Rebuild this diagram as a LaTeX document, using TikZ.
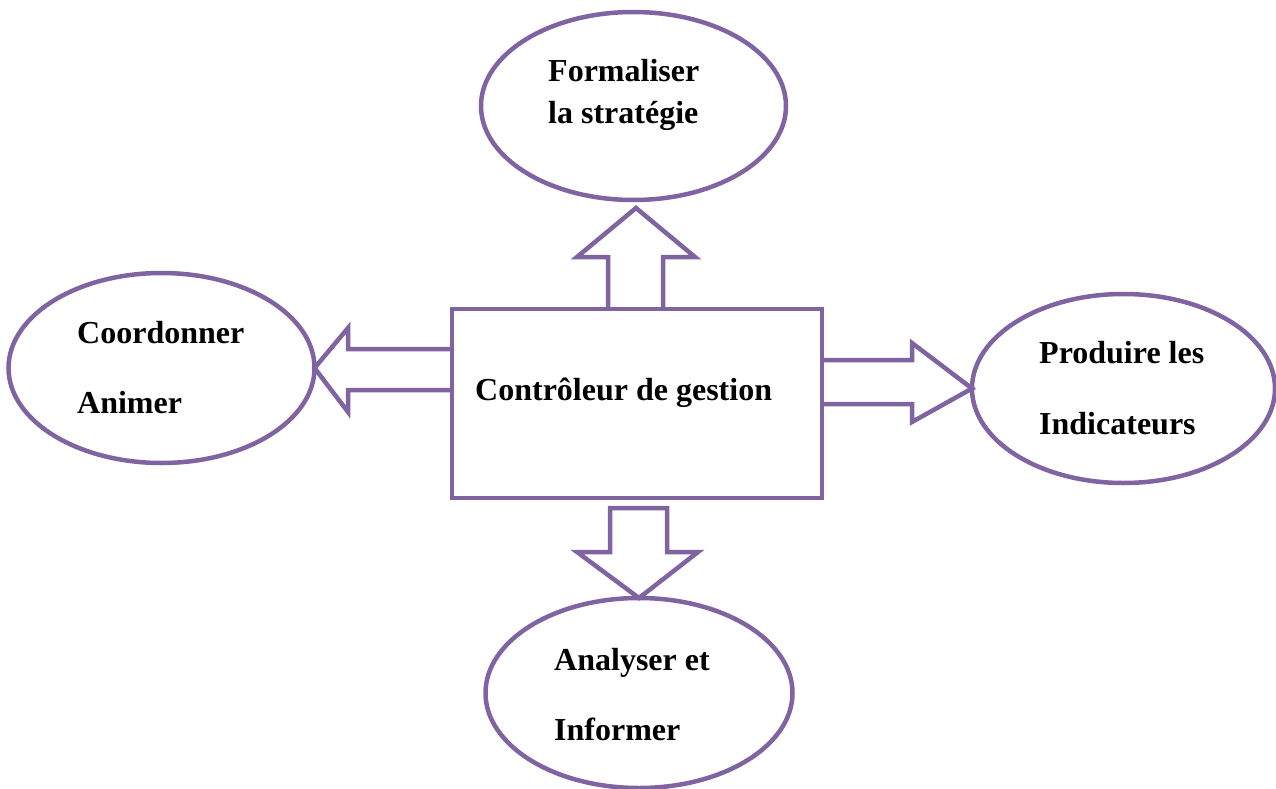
\documentclass[tikz,border=0pt]{standalone}
\usepackage{fontspec}
\setmainfont{Liberation Serif}
\usetikzlibrary{shapes.geometric}
\definecolor{accent}{HTML}{8064A2}
\tikzset{
  outline/.style={draw=accent, line width=4.5pt, line join=miter},
  framebox/.style={outline, inner sep=0pt, outer sep=0pt},
  bubble/.style={outline, ellipse, inner sep=0pt, outer sep=0pt, fill=white},
  label/.style={anchor=base west, inner sep=0pt, font=\fontsize{32}{38}\selectfont\bfseries, text=black},
}
\begin{document}
\begin{tikzpicture}[x=1pt, y=-1pt]
  \useasboundingbox (0,0) rectangle (1276,789);

  % central box
  \node[framebox, minimum width=370pt, minimum height=189pt] (ctrl) at (637,403.5) {};
  \node[label] (ctrltxt) at (475,400) {Contrôleur de gestion};

  % surrounding ellipses
  \node[bubble, minimum width=305pt, minimum height=188pt] (top) at (633.5,106) {};
  \node[bubble, minimum width=306pt, minimum height=190pt] (left) at (161.5,368) {};
  \node[bubble, minimum width=303pt, minimum height=189pt] (right) at (1123.5,388.5) {};
  \node[bubble, minimum width=307pt, minimum height=190pt] (bottom) at (639,693) {};

  % tip of the upward arrow, just below the top ellipse
  \coordinate (uptip) at (636,208);

  % block arrows
  \draw[outline] (ctrl.north -| 608,0) -- (608,257) -- (577,257) -- (uptip)
        -- (695,257) -- (663,257) -- (ctrl.north -| 663,0);
  \draw[outline] (ctrl.west |- 0,349) -- (348,349) -- (348,328) -- (left.east)
        -- (348,412) -- (348,390) -- (ctrl.west |- 0,390);
  \draw[outline] (ctrl.east |- 0,360) -- (912,360) -- (912,343) -- (right.west)
        -- (912,422) -- (912,404) -- (ctrl.east |- 0,404);
  \draw[outline] (610,508) -- (667,508) -- (667,552) -- (698,552) -- (bottom.north)
        -- (577,552) -- (610,552) -- cycle;

  % texts
  \node[label] (t1) at (548,82) {Formaliser};
  \node[label] (t2) at (548,124) {la stratégie};
  \node[label] (l1) at (77,343) {Coordonner};
  \node[label] (l2) at (77,413) {Animer};
  \node[label] (r1) at (1039,363) {Produire les};
  \node[label] (r2) at (1039,434) {Indicateurs};
  \node[label] (b1) at (554,670) {Analyser et};
  \node[label] (b2) at (554,740) {Informer};
\end{tikzpicture}
\end{document}
